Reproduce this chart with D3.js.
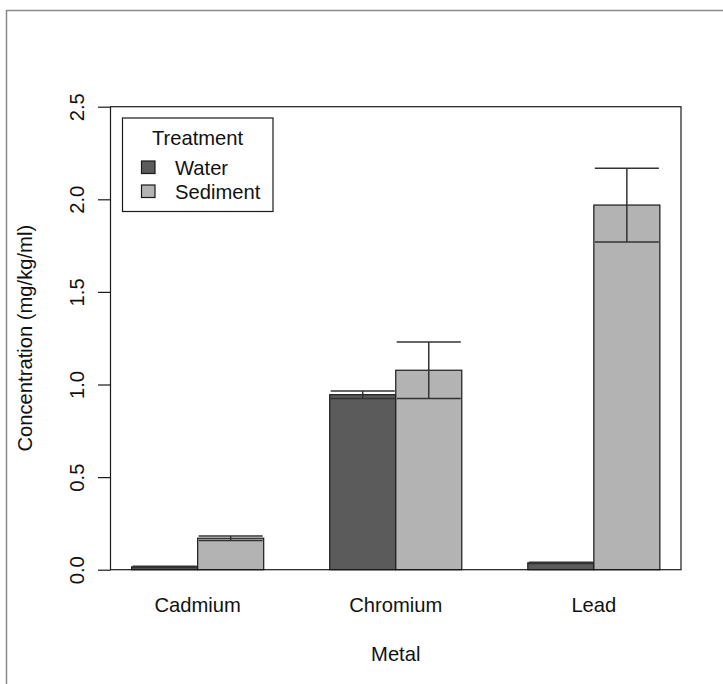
<!DOCTYPE html>
<html>
<head>
<meta charset="utf-8">
<script src="https://cdn.jsdelivr.net/npm/d3@7"></script>
<style>
  html, body { margin: 0; padding: 0; background: #fff; }
  svg { display: block; }
  text { font-family: "Liberation Sans", Arial, sans-serif; fill: #111; }
</style>
</head>
<body>
<script>
// ---- data ----
const metals = ["Cadmium", "Chromium", "Lead"];
const treatments = ["Water", "Sediment"];
const waterMean = [0.015, 0.945, 0.037];
const waterSE = [0.003, 0.02, 0.003];
const sedimentMean = [0.170, 1.077, 1.969];
const sedimentSE = [0.012, 0.152, 0.199];
const yTicks = [0, 0.5, 1.0, 1.5, 2.0, 2.5];
const fills = ["#5b5b5b", "#b3b3b3"];

const W = 723, H = 684;
const box = { left: 110.5, right: 681, top: 106.7, bottom: 569.7 };
const fs = 20.2;

const svg = d3.select("body").append("svg").attr("width", W).attr("height", H);

// outer frame
svg.append("rect").attr("x", 6.5).attr("y", 10.5).attr("width", W + 20).attr("height", H + 20)
  .attr("fill", "none").attr("stroke", "#8a8a8a").attr("stroke-width", 1.5);

// R-style barplot layout: bar width 1, space c(0,1)
const x = d3.scaleLinear().domain([0.68, 9.32]).range([box.left, box.right]);
const y = d3.scaleLinear().domain([0, 2.5]).range([box.bottom, box.top]);

const rows = [];
metals.forEach((m, g) => {
  [waterMean, sedimentMean].forEach((arr, s) => {
    const se = s === 0 ? waterSE[g] : sedimentSE[g];
    rows.push({ metal: m, g, s, left: 1 + g * 3 + s, mean: arr[g], se });
  });
});

// bars
svg.append("g").selectAll("rect").data(rows).join("rect")
  .attr("x", d => x(d.left))
  .attr("width", d => x(d.left + 1) - x(d.left))
  .attr("y", d => y(d.mean))
  .attr("height", d => y(0) - y(d.mean))
  .attr("fill", d => fills[d.s])
  .attr("stroke", "#1a1a1a").attr("stroke-width", 1.2);

// error bars
const capHalf = 0.485;
const eg = svg.append("g").attr("stroke", "#333").attr("stroke-width", 1.5).attr("fill", "none");
rows.forEach(d => {
  const cx = x(d.left + 0.5);
  const hi = y(d.mean + d.se), lo = y(d.mean - d.se);
  eg.append("line").attr("x1", cx).attr("x2", cx).attr("y1", lo).attr("y2", hi);
  [hi, lo].forEach(yy => {
    eg.append("line").attr("x1", x(d.left + 0.5 - capHalf)).attr("x2", x(d.left + 0.5 + capHalf))
      .attr("y1", yy).attr("y2", yy);
  });
});

// plot box
svg.append("rect").attr("x", box.left).attr("y", box.top)
  .attr("width", box.right - box.left).attr("height", box.bottom - box.top)
  .attr("fill", "none").attr("stroke", "#1a1a1a").attr("stroke-width", 1.2);

// y axis
const yAxis = d3.axisLeft(y).tickValues(yTicks).tickFormat(d3.format(".1f")).tickSize(12.5).tickPadding(0);
const ya = svg.append("g").attr("transform", `translate(${box.left},0)`).call(yAxis);
ya.select(".domain").remove();
ya.selectAll(".tick line").attr("stroke", "#1a1a1a").attr("stroke-width", 1.2);
ya.selectAll(".tick text").attr("x", null).attr("dy", null)
  .attr("transform", "translate(-33.5,0) rotate(-90)")
  .attr("text-anchor", "middle").attr("dominant-baseline", "central")
  .attr("font-size", fs).attr("font-family", "Liberation Sans, Arial, sans-serif").attr("fill", "#111");

// x labels
svg.append("g").selectAll("text").data(metals).join("text")
  .attr("x", (d, i) => x(2 + i * 3)).attr("y", 612)
  .attr("text-anchor", "middle").attr("font-size", fs).text(d => d);

// axis titles
svg.append("text").attr("x", (box.left + box.right) / 2).attr("y", 661)
  .attr("text-anchor", "middle").attr("font-size", fs).text("Metal");
svg.append("text").attr("transform", `translate(25,${(box.top + box.bottom) / 2}) rotate(-90)`)
  .attr("text-anchor", "middle").attr("dominant-baseline", "central")
  .attr("font-size", fs).text("Concentration (mg/kg/ml)");

// legend
const lg = svg.append("g");
lg.append("rect").attr("x", 122.5).attr("y", 118).attr("width", 150.5).attr("height", 93.5)
  .attr("fill", "#fff").attr("stroke", "#1a1a1a").attr("stroke-width", 1.2);
lg.append("text").attr("x", 197.5).attr("y", 144.5).attr("text-anchor", "middle")
  .attr("font-size", fs).text("Treatment");
treatments.forEach((t, i) => {
  lg.append("rect").attr("x", 141.5).attr("y", 161 + i * 24).attr("width", 13.5).attr("height", 12.5)
    .attr("fill", fills[i]).attr("stroke", "#1a1a1a").attr("stroke-width", 1.2);
  lg.append("text").attr("x", 175).attr("y", 175 + i * 24).attr("font-size", fs).text(t);
});
</script>
</body>
</html>
